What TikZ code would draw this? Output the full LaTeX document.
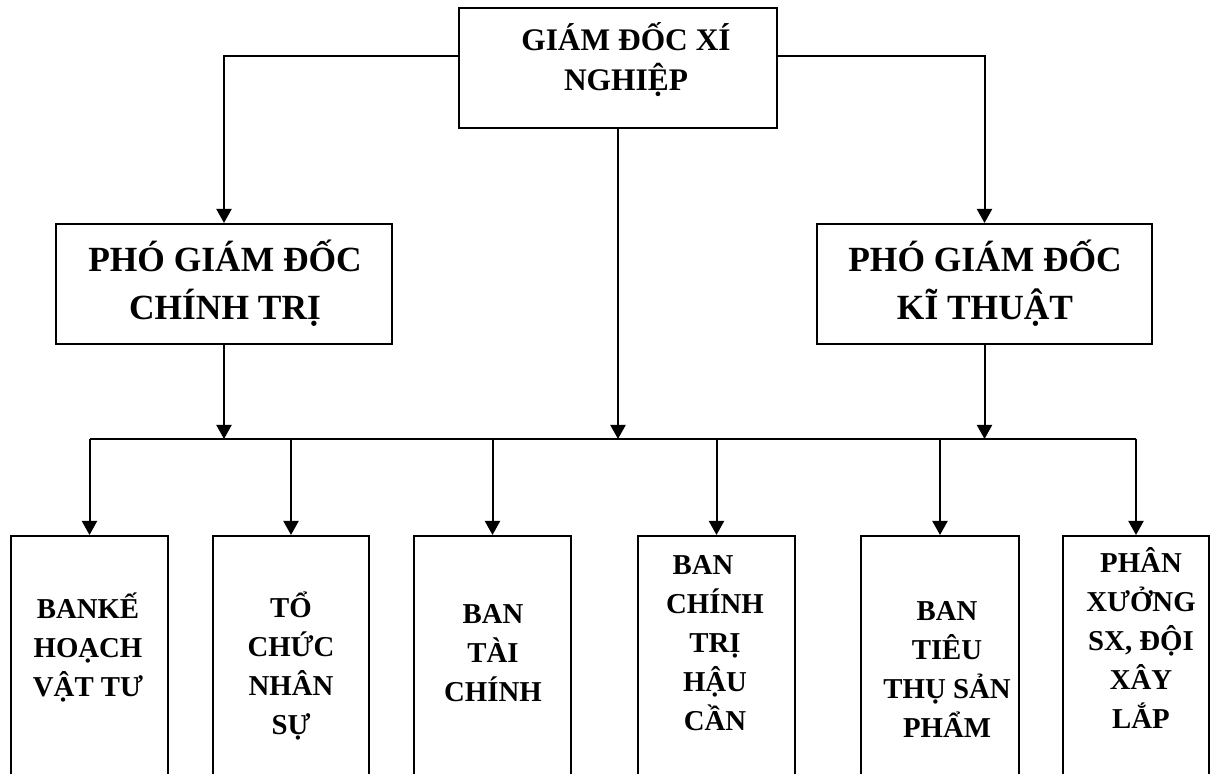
\documentclass[tikz,border=0pt]{standalone}
\usepackage{fontspec}
\setmainfont{Liberation Serif}
\usetikzlibrary{arrows.meta,calc}
\begin{document}
\begin{tikzpicture}[x=0.5pt,y=-0.5pt,
  box/.style={draw,line width=1pt,inner sep=0pt},
  unitbox/.style={box,minimum width=78.5pt,minimum height=140pt},
  txt/.style={align=center,inner sep=0pt,anchor=base},
  toptxt/.style={txt,font=\bfseries\fontsize{15.7pt}{20pt}\selectfont},
  deptxt/.style={txt,font=\bfseries\fontsize{17.7pt}{24pt}\selectfont},
  unittxt/.style={txt,font=\bfseries\fontsize{14.4pt}{19.5pt}\selectfont},
  link/.style={line width=1pt},
  arr/.style={line width=1pt,-{Triangle[length=7pt,width=7.5pt]}}]
\useasboundingbox (0,0) rectangle (1212,774);

% director (text nodes are placed by the baseline of their last line)
\node[box,minimum width=159pt,minimum height=60pt] (gd) at (618,68) {};
\node[toptxt] (gdt) at (626,91) {GIÁM ĐỐC XÍ\\NGHIỆP};

% deputy directors
\node[box,minimum width=168pt,minimum height=60pt] (ct) at (224,284) {};
\node[deptxt] (ctt) at (225,320) {PHÓ GIÁM ĐỐC\\CHÍNH TRỊ};
\node[box,minimum width=167.5pt,minimum height=60pt] (kt) at (984.5,284) {};
\node[deptxt] (ktt) at (985,320) {PHÓ GIÁM ĐỐC\\KĨ THUẬT};

% departments
\node[unitbox] (u1) at (89.5,676) {};
\node[unitbox,minimum width=78pt] (u2) at (291,676) {};
\node[unitbox] (u3) at (492.5,676) {};
\node[unitbox] (u4) at (716.5,676) {};
\node[unitbox,minimum width=79pt] (u5) at (940,676) {};
\node[unitbox,minimum width=73pt] (u6) at (1136,676) {};

\node[unittxt] (u1t) at (88,697) {BANKẾ\\HOẠCH\\VẬT TƯ};
\node[unittxt] (u2t) at (291,735) {TỔ\\CHỨC\\NHÂN\\SỰ};
\node[unittxt] (u3t) at (493,702) {BAN\\TÀI\\CHÍNH};
\node[unittxt] (u4t) at (715,731) {BAN\hspace*{12pt}\\CHÍNH\\TRỊ\\HẬU\\CẦN};
\node[unittxt] (u5t) at (947,738) {BAN\\TIÊU\\THỤ SẢN\\PHẨM};
\node[unittxt] (u6t) at (1141,729) {PHÂN\\XƯỞNG\\SX, ĐỘI\\XÂY\\LẮP};

% connectors
\coordinate (gdl) at ($(gd.north west)!0.4!(gd.south west)$);
\coordinate (gdr) at ($(gd.north east)!0.4!(gd.south east)$);
\draw[arr] (gdl) -| (ct.north);
\draw[arr] (gdr) -| (kt.north);

\coordinate (busl) at (u1.north |- 0,439);
\coordinate (busr) at (u6.north |- 0,439);
\draw[link] (busl) -- (busr);
\draw[arr] (gd.south) -- (gd.south |- busl);
\draw[arr] (ct.south) -- (ct.south |- busl);
\draw[arr] (kt.south) -- (kt.south |- busl);
\foreach \u in {u1,u2,u3,u4,u5,u6}
  \draw[arr] (\u.north |- busl) -- (\u.north);
\end{tikzpicture}
\end{document}
